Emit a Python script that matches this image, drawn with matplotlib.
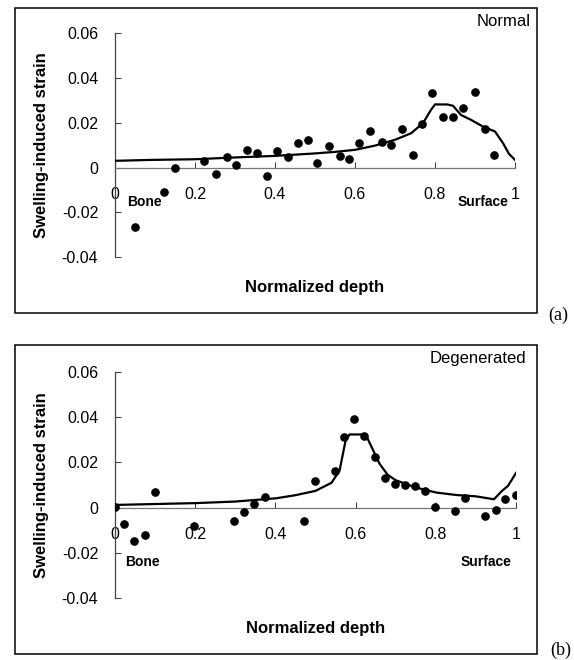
import matplotlib
matplotlib.use("Agg")
import matplotlib.pyplot as plt
from matplotlib.patches import Rectangle

plt.rcParams['font.family'] = ['Liberation Sans', 'DejaVu Sans']

# (a) normal cartilage: measured points and model curve
normal_x = [0.049, 0.122, 0.150, 0.222, 0.253, 0.280, 0.302, 0.330, 0.354, 0.381,
            0.406, 0.433, 0.458, 0.483, 0.506, 0.534, 0.562, 0.585, 0.610, 0.637,
            0.668, 0.689, 0.717, 0.744, 0.767, 0.793, 0.821, 0.846, 0.871, 0.900,
            0.925, 0.947]
normal_y = [-0.0268, -0.011, -0.0003, 0.0027, -0.0031, 0.0048, 0.0013, 0.0080, 0.0067, -0.0040,
            0.0076, 0.0048, 0.0110, 0.0125, 0.0018, 0.0095, 0.0052, 0.0036, 0.0110, 0.0164,
            0.0115, 0.0100, 0.0170, 0.0057, 0.0194, 0.0334, 0.0226, 0.0226, 0.0265, 0.0338,
            0.0173, 0.0057]
normal_fit_x = [0.0, 0.09, 0.2, 0.3, 0.4, 0.5, 0.55, 0.6, 0.65, 0.7, 0.74, 0.77, 0.79,
                0.80, 0.83, 0.845, 0.865, 0.89, 0.92, 0.95, 0.97, 0.985, 1.0]
normal_fit_y = [0.0030, 0.0034, 0.0037, 0.0045, 0.0052, 0.0063, 0.0070, 0.0079, 0.0098,
                0.0124, 0.0153, 0.0198, 0.0258, 0.0282, 0.0282, 0.0276, 0.0235, 0.0213,
                0.0183, 0.0161, 0.0109, 0.0061, 0.0034]

# (b) degenerated cartilage
degen_x = [0.0, 0.023, 0.048, 0.075, 0.099, 0.197, 0.297, 0.322, 0.346, 0.373,
           0.472, 0.499, 0.548, 0.572, 0.597, 0.622, 0.649, 0.673, 0.698, 0.722,
           0.747, 0.772, 0.799, 0.848, 0.873, 0.922, 0.949, 0.973, 0.999]
degen_y = [0.0003, -0.0074, -0.0148, -0.0119, 0.0071, -0.0079, -0.0061, -0.0018, 0.0018, 0.0049,
           -0.0059, 0.0116, 0.0163, 0.0311, 0.0390, 0.0316, 0.0225, 0.0129, 0.0104, 0.0099,
           0.0095, 0.0074, 0.0003, -0.0016, 0.0041, -0.0036, -0.0012, 0.0040, 0.0056]
degen_fit_x = [0.0, 0.2, 0.3, 0.4, 0.45, 0.5, 0.54, 0.56, 0.575, 0.585, 0.625, 0.64,
               0.66, 0.68, 0.7, 0.75, 0.8, 0.85, 0.9, 0.945, 0.965, 0.98, 1.0]
degen_fit_y = [0.0012, 0.0020, 0.0027, 0.0041, 0.0055, 0.0074, 0.0110, 0.0163, 0.0296,
               0.0323, 0.0323, 0.0267, 0.0193, 0.0145, 0.0121, 0.0089, 0.0067, 0.0056,
               0.0050, 0.0037, 0.0074, 0.0096, 0.0153]

x_ticks = [0, 0.2, 0.4, 0.6, 0.8, 1]
x_tick_labels = ['0', '0.2', '0.4', '0.6', '0.8', '1']
y_ticks = [-0.04, -0.02, 0, 0.02, 0.04, 0.06]
y_tick_labels = ['-0.04', '-0.02', '0', '0.02', '0.04', '0.06']

W, H = 574, 660
fig = plt.figure(figsize=(W / 100, H / 100), dpi=100)


def px_box(left, top, right, bottom):
    return [left / W, 1 - bottom / H, (right - left) / W, (bottom - top) / H]


def draw_panel(ax, xs, ys, fx, fy, bone_xy, surf_xy):
    ax.plot(fx, fy, color='black', lw=1.6, zorder=3)
    ax.plot(xs, ys, 'o', color='black', ms=5.2, zorder=4)
    ax.set_xlim(0, 1)
    ax.set_ylim(-0.04, 0.06)
    for s in ['top', 'right']:
        ax.spines[s].set_visible(False)
    ax.spines['bottom'].set_position(('data', 0))
    ax.spines['bottom'].set_color('#777777')
    ax.spines['left'].set_color('#444444')
    ax.spines['bottom'].set_linewidth(0.9)
    ax.spines['left'].set_linewidth(0.9)
    ax.set_xticks(x_ticks)
    ax.set_xticklabels(x_tick_labels)
    ax.set_yticks(y_ticks)
    ax.set_yticklabels(y_tick_labels)
    ax.tick_params(axis='x', direction='in', length=4, pad=14, labelsize=11.5,
                   color='#444444')
    ax.tick_params(axis='y', direction='in', length=4, pad=12, labelsize=11.5,
                   color='#444444')
    ax.set_xlabel('Normalized depth', fontsize=12, fontweight='bold')
    ax.xaxis.set_label_coords(0.5, -0.135)
    ax.xaxis.label.set_va('center')
    ax.set_ylabel('Swelling-induced strain', fontsize=12, fontweight='bold')
    ax.yaxis.set_label_coords(-0.1825, 0.5)
    ax.yaxis.label.set_va('center')
    ax.text(bone_xy[0], bone_xy[1], 'Bone', fontsize=10, fontweight='bold',
            ha='left', va='center')
    ax.text(surf_xy[0], surf_xy[1], 'Surface', fontsize=10, fontweight='bold',
            ha='right', va='center')
    ax.patch.set_alpha(0)


# top panel (a)
ax1 = fig.add_axes(px_box(115, 33.3, 515, 257))
draw_panel(ax1, normal_x, normal_y, normal_fit_x, normal_fit_y,
           (0.03, -0.0153), (0.983, -0.0153))
fig.patches.append(Rectangle((15 / W, 1 - 313 / H), (537 - 15) / W, (313 - 7.5) / H,
                             transform=fig.transFigure, fill=False, lw=1.1,
                             edgecolor='black'))
fig.text(531 / W, 1 - 21 / H, 'Normal', fontsize=12, ha='right', va='center')
fig.text(548 / W, 1 - 315 / H, '(a)', fontsize=13, family='Liberation Serif',
         ha='left', va='center')

# bottom panel (b)
ax2 = fig.add_axes(px_box(115, 371.7, 516, 598.3))
draw_panel(ax2, degen_x, degen_y, degen_fit_x, degen_fit_y,
           (0.025, -0.0241), (0.988, -0.0241))
fig.patches.append(Rectangle((15 / W, 1 - 654 / H), (537 - 15) / W, (654 - 345) / H,
                             transform=fig.transFigure, fill=False, lw=1.1,
                             edgecolor='black'))
fig.text(526 / W, 1 - 358 / H, 'Degenerated', fontsize=12, ha='right', va='center')
fig.text(550 / W, 1 - 650 / H, '(b)', fontsize=13, family='Liberation Serif',
         ha='left', va='center')

fig.savefig('out.png', dpi=100)
